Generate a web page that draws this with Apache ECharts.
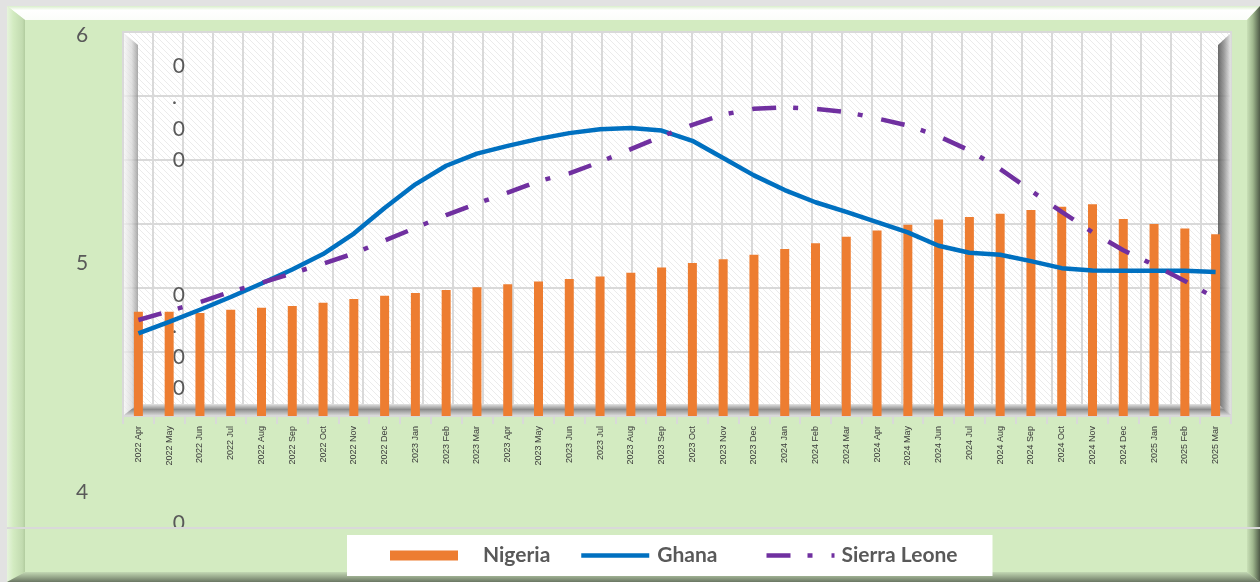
<!DOCTYPE html>
<html>
<head>
<meta charset="utf-8">
<script src="https://cdn.jsdelivr.net/npm/echarts@6/dist/echarts.min.js"></script>
<style>
  html, body { margin: 0; padding: 0; background: #e2e2e2; }
  #chart { width: 1260px; height: 582px; }
</style>
</head>
<body>
<div id="chart"></div>
<script>
const months = [
  '2022 Apr', '2022 May', '2022 Jun', '2022 Jul', '2022 Aug', '2022 Sep', '2022 Oct', '2022 Nov', '2022 Dec',
  '2023 Jan', '2023 Feb', '2023 Mar', '2023 Apr', '2023 May', '2023 Jun', '2023 Jul', '2023 Aug', '2023 Sep',
  '2023 Oct', '2023 Nov', '2023 Dec', '2024 Jan', '2024 Feb', '2024 Mar', '2024 Apr', '2024 May', '2024 Jun',
  '2024 Jul', '2024 Aug', '2024 Sep', '2024 Oct', '2024 Nov', '2024 Dec', '2025 Jan', '2025 Feb', '2025 Mar'
];

const nigeria = [
  16.3, 16.3, 16.1, 16.6, 16.9, 17.2, 17.7, 18.3, 18.8, 19.2, 19.7, 20.1,
  20.6, 21.0, 21.4, 21.8, 22.4, 23.2, 23.9, 24.5, 25.2, 26.1, 27.0, 28.0,
  29.0, 29.9, 30.7, 31.1, 31.6, 32.2, 32.7, 33.1, 30.8, 30.0, 29.3, 28.4
];

const ghana = [
  12.9, 14.7, 16.6, 18.6, 20.7, 22.9, 25.3, 28.5, 32.5, 36.2, 39.1, 41.0,
  42.2, 43.3, 44.2, 44.8, 45.0, 44.6, 43.0, 40.3, 37.6, 35.3, 33.4, 31.9,
  30.3, 28.7, 26.6, 25.5, 25.2, 24.2, 23.1, 22.75, 22.7, 22.7, 22.7, 22.5
];

const sierraLeone = [
  15.0, 16.4, 17.8, 19.4, 20.8, 22.3, 23.8, 25.4, 27.4, 29.4, 31.4, 33.2,
  34.9, 36.7, 37.9, 39.7, 41.7, 43.7, 45.5, 47.1, 48.0, 48.25, 48.0, 47.5,
  46.5, 45.4, 43.7, 41.5, 38.6, 35.2, 31.9, 28.7, 25.9, 23.6, 21.1, 18.4
];

// the original's value labels, broken into one character per line
const yLabelValues = [40, 50, 60];

const GRID_LINE = '#d9d9d9';
const TEXT_GRAY = '#595959';

function hatchPattern() {
    const c = document.createElement('canvas');
    c.width = 6; c.height = 6;
    const g = c.getContext('2d');
    g.fillStyle = '#ffffff';
    g.fillRect(0, 0, 6, 6);
    g.strokeStyle = '#ebebeb';
    g.lineWidth = 1;
    g.beginPath();
    g.moveTo(-1, -1); g.lineTo(7, 7);
    g.moveTo(-1, 5); g.lineTo(1, 7);
    g.moveTo(5, -1); g.lineTo(7, 1);
    g.stroke();
    return { image: c, repeat: 'repeat' };
}

function lin(x, y, x2, y2, stops) {
    return new echarts.graphic.LinearGradient(x, y, x2, y2,
        stops.map(([offset, color]) => ({ offset, color })));
}

function brokenLabel(v) {
    const s = v.toFixed(2);
    const rest = s.slice(1).split('').map(ch => (ch === '.' ? '{c|.}' : '{b|' + ch + '}'));
    return ['{a|' + s[0] + '}'].concat(rest).join('\n');
}

const labelFont = { fontSize: 21, lineHeight: 31.3, fontFamily: 'Lato', color: TEXT_GRAY };

const chart = echarts.init(document.getElementById('chart'), null, { renderer: 'canvas' });

const option = {
    backgroundColor: '#d3ebc1',
    animation: false,
    grid: [
        {
            left: 123, right: 29, top: 32, bottom: 166,
            outerBoundsMode: 'none',
            show: true,
            backgroundColor: hatchPattern(),
            borderColor: GRID_LINE,
            borderWidth: 2
        },
        // invisible grid that only carries the misplaced value labels
        { left: 195, width: 10, top: 97.6, bottom: 27.4, show: false, outerBoundsMode: 'none' }
    ],
    xAxis: [
        {
            type: 'category',
            gridIndex: 0,
            data: months,
            position: 'bottom',
            axisLine: { show: false },
            axisTick: { show: true, length: 8, lineStyle: { color: GRID_LINE, width: 2 } },
            axisLabel: {
                interval: 0,
                rotate: 90,
                margin: 10,
                fontSize: 9,
                fontFamily: 'Liberation Sans',
                color: '#3a3a3a'
            },
            splitLine: { show: false }
        },
        {
            type: 'value',
            gridIndex: 0,
            min: 0, max: 37, interval: 1,
            axisLine: { show: false },
            axisTick: { show: false },
            axisLabel: { show: false },
            splitLine: { show: true, lineStyle: { color: GRID_LINE, width: 2 } }
        },
        { type: 'value', gridIndex: 1, show: false, min: 0, max: 1 }
    ],
    yAxis: [
        {
            type: 'value',
            gridIndex: 0,
            min: 0, max: 60, interval: 10,
            axisLine: { show: false },
            axisTick: { show: false },
            axisLabel: { show: false },
            splitLine: { lineStyle: { color: GRID_LINE, width: 2 } }
        },
        {
            type: 'value',
            gridIndex: 1,
            min: yLabelValues[0], max: yLabelValues[yLabelValues.length - 1], interval: 10,
            axisLine: { show: false },
            axisTick: { show: false },
            splitLine: { show: false },
            axisLabel: {
                margin: 10,
                width: 109,
                align: 'right',
                formatter: brokenLabel,
                rich: {
                    a: Object.assign({ align: 'left' }, labelFont),
                    b: Object.assign({ align: 'right' }, labelFont),
                    c: Object.assign({ align: 'right', padding: [0, 8, 0, 0] }, labelFont)
                }
            }
        }
    ],
    legend: {
        left: 347, top: 535,
        z: 30,
        orient: 'horizontal',
        backgroundColor: '#ffffff',
        padding: [10, 31, 10, 43],
        itemGap: 0,
        itemWidth: 68,
        itemHeight: 10,
        textStyle: {
            fontFamily: 'Lato', fontWeight: 'bold', fontSize: 21,
            color: TEXT_GRAY, lineHeight: 20
        },
        data: [
            { name: 'Nigeria', icon: 'rect', textStyle: { padding: [0, 0, 0, 20], width: 96 } },
            { name: 'Ghana', itemStyle: { opacity: 0 }, lineStyle: { width: 4.5 },
              textStyle: { padding: [0, 0, 0, 3], width: 107 } },
            { name: 'Sierra Leone', itemStyle: { opacity: 0 }, lineStyle: { width: 4.5 },
              textStyle: { padding: [0, 0, 0, 2], width: 120 } }
        ]
    },
    graphic: [
        // outer light border
        { type: 'rect', z: 5, silent: true, shape: { x: 0, y: 0, width: 1260, height: 6 }, style: { fill: '#e2e2e2' } },
        { type: 'rect', z: 5, silent: true, shape: { x: 0, y: 0, width: 7, height: 582 }, style: { fill: '#e2e2e2' } },
        // bevels of the frame
        { type: 'polygon', z: 5, silent: true,
          shape: { points: [[7, 6], [1260, 6], [1247, 20], [25, 20]] },
          style: { fill: lin(0, 0, 0, 1, [[0, '#d9eecb'], [0.3, '#ffffff'], [1, '#fbfdf9']]) } },
        { type: 'polygon', z: 5, silent: true,
          shape: { points: [[7, 6], [25, 20], [25, 572], [7, 582]] },
          style: { fill: lin(0, 0, 1, 0, [[0, '#e6f4dc'], [0.35, '#d3ebc1'], [0.85, '#c2dbb0'], [1, '#b2cc9f']]) } },
        { type: 'polygon', z: 5, silent: true,
          shape: { points: [[1247, 20], [1260, 6], [1260, 582], [1247, 572]] },
          style: { fill: lin(0, 0, 1, 0, [[0, '#c9e0b7'], [0.45, '#9fb78e'], [1, '#4e5a47']]) } },
        { type: 'polygon', z: 5, silent: true,
          shape: { points: [[25, 572], [1247, 572], [1260, 582], [7, 582]] },
          style: { fill: lin(0, 0, 0, 1, [[0, '#c3d8b4'], [0.5, '#98a98c'], [1, '#6a7663']]) } },
        // 3D walls and floor of the plot
        { type: 'polygon', z: 1, silent: true,
          shape: { points: [[124, 33], [138, 45], [138, 405], [124, 415]] },
          style: { opacity: 0.75, fill: lin(0, 0, 1, 0, [[0, '#f4f4f4'], [0.55, '#d6d6d6'], [1, '#8e8e8e']]) } },
        { type: 'polygon', z: 1, silent: true,
          shape: { points: [[1218, 45], [1231, 33], [1231, 415], [1218, 405]] },
          style: { opacity: 0.85, fill: lin(0, 0, 1, 0, [[0, '#4f4f4f'], [0.45, '#8a8a8a'], [1, '#e6e6e6']]) } },
        { type: 'polygon', z: 1, silent: true,
          shape: { points: [[124, 415], [138, 404], [1218, 404], [1231, 415]] },
          style: { fill: lin(0, 0, 0, 1, [[0, '#e4e4e4'], [0.5, '#8d8d8d'], [1, '#d2d2d2']]) } },
        // legend panel covering the lower part of the chart
        { type: 'rect', z: 20, silent: true,
          shape: { x: 25, y: 528, width: 1222, height: 44 },
          style: { fill: '#d3ebc1' } },
        { type: 'line', z: 21, silent: true,
          shape: { x1: 7, y1: 528, x2: 1260, y2: 528 },
          style: { stroke: GRID_LINE, lineWidth: 2 } }
    ],
    series: [
        {
            name: 'Nigeria',
            type: 'bar',
            xAxisIndex: 0, yAxisIndex: 0,
            data: nigeria,
            barWidth: 9,
            itemStyle: { color: '#ed7d31' },
            z: 3
        },
        {
            name: 'Ghana',
            type: 'line',
            xAxisIndex: 0, yAxisIndex: 0,
            data: ghana,
            symbol: 'none',
            lineStyle: { color: '#0070c0', width: 4.5 },
            itemStyle: { color: '#0070c0' },
            z: 4
        },
        {
            name: 'Sierra Leone',
            type: 'line',
            xAxisIndex: 0, yAxisIndex: 0,
            data: sierraLeone,
            symbol: 'none',
            lineStyle: { color: '#7030a0', width: 4.5, type: [24, 17, 5, 19], cap: 'butt' },
            itemStyle: { color: '#7030a0' },
            z: 4
        }
    ]
};

chart.setOption(option);
</script>
</body>
</html>
